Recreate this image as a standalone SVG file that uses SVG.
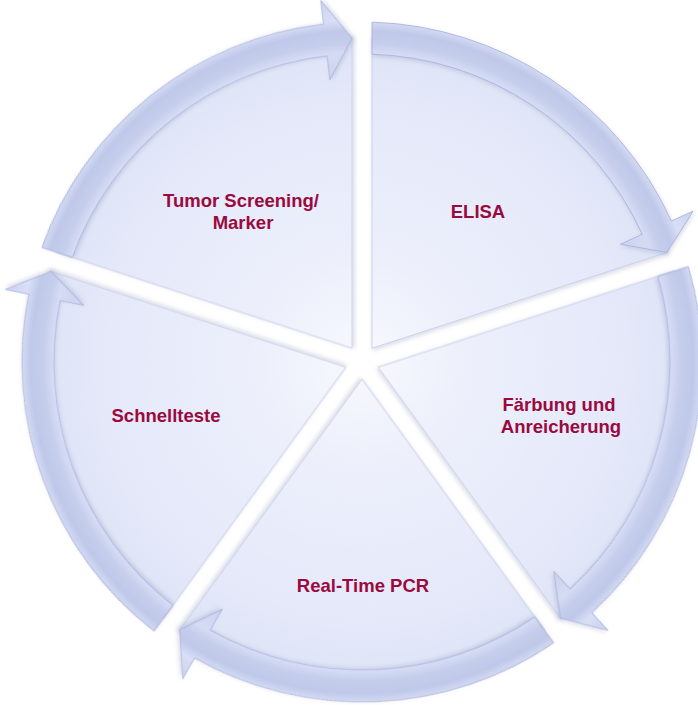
<svg xmlns="http://www.w3.org/2000/svg" xmlns:xlink="http://www.w3.org/1999/xlink" width="698" height="705" viewBox="0 0 698 705">
<style>
.lbl{font-family:"Liberation Sans",Arial,sans-serif;font-weight:bold;font-size:18.5px;fill:#9A0A3E;text-anchor:middle}
.wedge{fill:url(#wedgeGrad);stroke:#CBD1EB;stroke-width:1;filter:url(#soft)}
.band{fill:url(#bandGrad);stroke:#AAB4DD;stroke-width:0.9;filter:url(#soft)}
</style>
<defs>
<radialGradient id="wedgeGrad" gradientUnits="userSpaceOnUse" cx="0" cy="0" r="330">
<stop offset="0" stop-color="#F8F9FE"/>
<stop offset="0.3" stop-color="#EDF0FB"/>
<stop offset="0.8" stop-color="#E4E8F9"/>
<stop offset="1" stop-color="#DDE2F6"/>
</radialGradient>
<radialGradient id="bandGrad" gradientUnits="userSpaceOnUse" cx="0" cy="0" r="366">
<stop offset="0.77" stop-color="#CAD1EE"/>
<stop offset="0.846" stop-color="#D5DBF4"/>
<stop offset="0.87" stop-color="#C6CEEC"/>
<stop offset="0.905" stop-color="#BFC8E9"/>
<stop offset="0.925" stop-color="#D0D7F1"/>
<stop offset="0.935" stop-color="#DADFF6"/>
<stop offset="1" stop-color="#C9D0EE"/>
</radialGradient>
<filter id="soft" x="-10%" y="-10%" width="120%" height="120%">
<feDropShadow dx="1" dy="2" stdDeviation="2" flood-color="#7A84A8" flood-opacity="0.28"/>
</filter>
<path id="wedge" class="wedge" d="M10,-13.76 L10,-324.85 A325,325 0 0 1 305.86,-109.89 Z"/>
<path id="band" class="band" d="M10,-339.85 A340,340 0 0 1 309.39,-141.00 L331.23,-150.95 L304.91,-109.59 L258.43,-117.77 L280.27,-127.72 A308,308 0 0 0 10,-307.84 Z"/>
</defs>
<rect width="698" height="705" fill="#FFFFFF"/>
<g id="node-elisa">
<use xlink:href="#wedge" href="#wedge" transform="translate(362,362)"/>
<text class="lbl" x="478" y="218">ELISA</text>
</g>
<g id="node-faerbung">
<use xlink:href="#wedge" href="#wedge" transform="translate(362,362) rotate(72)"/>
<text class="lbl" x="559" y="411">Färbung und</text>
<text class="lbl" x="561" y="433">Anreicherung</text>
</g>
<g id="node-pcr">
<use xlink:href="#wedge" href="#wedge" transform="translate(362,362) rotate(144)"/>
<text class="lbl" x="363" y="592">Real-Time PCR</text>
</g>
<g id="node-schnelltest">
<use xlink:href="#wedge" href="#wedge" transform="translate(362,362) rotate(216)"/>
<text class="lbl" x="166" y="422">Schnellteste</text>
</g>
<g id="node-tumor">
<use xlink:href="#wedge" href="#wedge" transform="translate(362,362) rotate(288)"/>
<text class="lbl" x="241" y="207">Tumor Screening/</text>
<text class="lbl" x="243" y="229">Marker</text>
</g>
<g id="connectors">
<use xlink:href="#band" href="#band" transform="translate(362,362)"/>
<use xlink:href="#band" href="#band" transform="translate(362,362) rotate(72)"/>
<use xlink:href="#band" href="#band" transform="translate(362,362) rotate(144)"/>
<use xlink:href="#band" href="#band" transform="translate(362,362) rotate(216)"/>
<use xlink:href="#band" href="#band" transform="translate(362,362) rotate(288)"/>
</g>
</svg>
